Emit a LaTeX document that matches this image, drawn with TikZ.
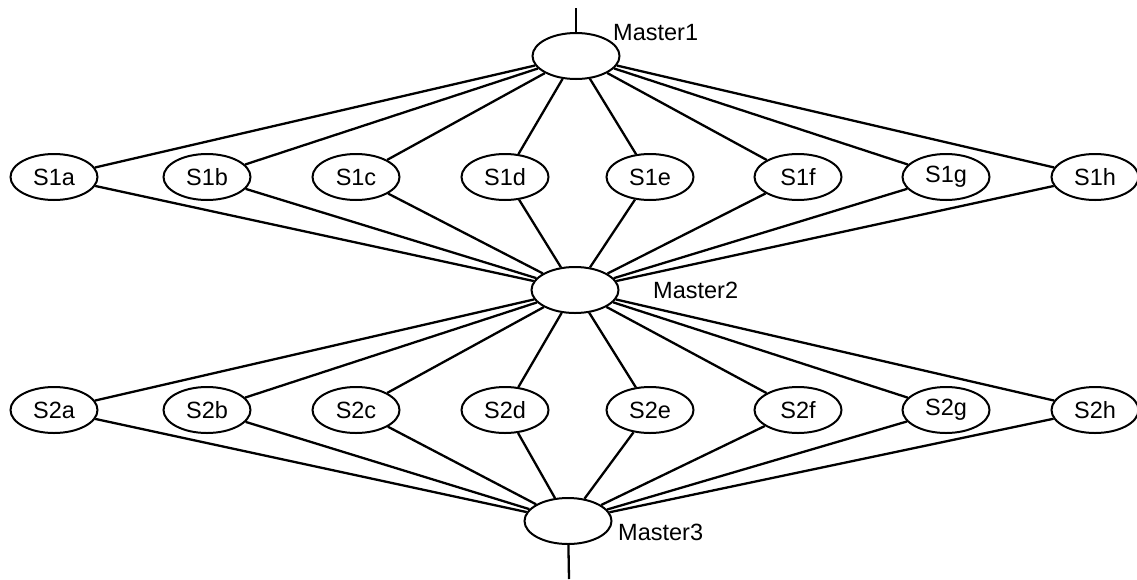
\documentclass[tikz,border=0pt]{standalone}
\usepackage{fontspec}
\setmainfont{Liberation Sans}
\usetikzlibrary{shapes.geometric}
\begin{document}
\begin{tikzpicture}[x=1pt,y=-1pt,
  node font=\fontsize{23.5}{27}\selectfont,
  every node/.style={inner sep=0pt},
  nd/.style={ellipse,draw,line width=2pt,minimum width=87pt,minimum height=46pt},
  wire/.style={line width=2.3pt},
  lbl/.style={anchor=west}]
\useasboundingbox (0,0) rectangle (1137,579);
\fill[white] (0,0) rectangle (1137,579);
% masters
\node[nd] (M1) at (576,56) {};
\node[nd] (M2) at (575,290) {};
\node[nd] (M3) at (568,521) {};
\node[lbl] (L1) at (613,33) {Master1};
\node[lbl] (L2) at (653,290) {Master2};
\node[lbl] (L3) at (618,532) {Master3};
\coordinate (top) at (576,8);
\coordinate (bot) at (569,579);
% slave rows
\foreach \n/\x in {a/54,b/207,c/356,d/505,e/650,f/798,g/946,h/1095}{
  \node[nd] (S1\n) at (\x,177) {S1\n};
  \node[nd] (S2\n) at (\x,410) {S2\n};
}
\foreach \n in {a,b,c,d,e,f,g,h}{
  \draw[wire] (S1\n) -- (M1);
  \draw[wire] (S1\n) -- (M2);
  \draw[wire] (S2\n) -- (M2);
  \draw[wire] (S2\n) -- (M3);
}
\draw[wire] (top) -- (M1);
\draw[wire] (M3) -- (bot);
\end{tikzpicture}
\end{document}
